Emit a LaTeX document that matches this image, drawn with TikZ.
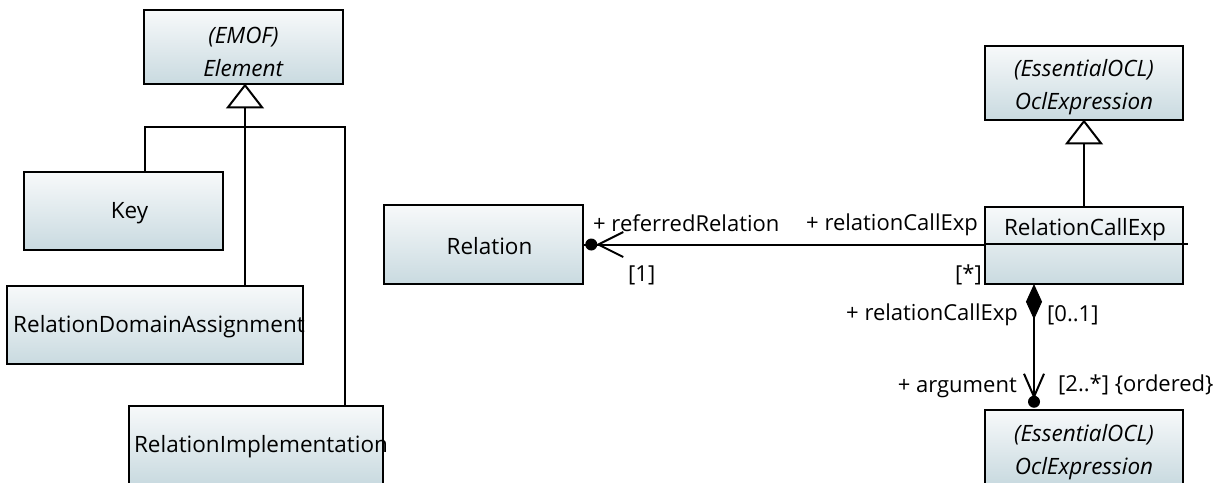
\documentclass[tikz,border=0pt]{standalone}
\usepackage{fontspec}
\setmainfont{Open Sans}
\definecolor{boxtop}{HTML}{F7F9FA}
\definecolor{boxbot}{HTML}{C9DAE0}
\begin{document}
\begin{tikzpicture}[x=1pt,y=-1pt,
  box/.style={draw=black, line width=2.5pt, top color=boxtop, bottom color=boxbot, inner sep=0pt},
  txt/.style={font=\fontsize{22.5}{33}\selectfont, inner sep=0pt, align=center},
  lbl/.style={font=\fontsize{22}{26}\selectfont, inner sep=0pt},
  conn/.style={line width=2pt, draw=black},
  open/.style={line width=2pt, draw=black, fill=white, line join=miter}]
\useasboundingbox (0,0) rectangle (1220,482);
\clip (0,0) rectangle (1220,482);
% boxes
\node[box, minimum width=199pt, minimum height=74pt] (elem) at (243.5,47) {};
\node[box, minimum width=199pt, minimum height=78pt] (key) at (123.5,211) {};
\node[box, minimum width=296pt, minimum height=78pt] (rda) at (155,325) {};
\node[box, minimum width=254pt, minimum height=78pt] (ri) at (256,445) {};
\node[box, minimum width=199pt, minimum height=79pt] (rel) at (483.5,244.5) {};
\node[box, minimum width=198pt, minimum height=74pt] (ocl1) at (1084,83) {};
\node[box, minimum width=198pt, minimum height=77pt] (rce) at (1084,245.5) {};
\node[box, minimum width=198pt, minimum height=74pt] (ocl2) at (1084,447) {};
% box texts
\node[txt] (elemt) at ([yshift=-4.5pt]elem.center) {\textit{(EMOF)}\\\textit{Element}};
\node[txt] (keyt) at ([xshift=6pt,yshift=-2pt]key.center) {Key};
\node[txt] (rdat) at ([xshift=4pt,yshift=-2pt]rda.center) {RelationDomainAssignment};
\node[txt] (rit) at ([xshift=5pt,yshift=-2pt]ri.center) {RelationImplementation};
\node[txt] (relt) at ([xshift=6pt,yshift=-2pt]rel.center) {Relation};
\node[txt] (ocl1t) at ([yshift=-4.5pt]ocl1.center) {\textit{(EssentialOCL)}\\\textit{OclExpression}};
\node[txt] (rcet) at ([xshift=1pt,yshift=16pt]rce.center) {RelationCallExp};
\node[txt] (ocl2t) at ([yshift=-5.5pt]ocl2.center) {\textit{(EssentialOCL)}\\\textit{OclExpression}};
\draw[conn] ([yshift=1.5pt]rce.west) -- ([xshift=4pt,yshift=1.5pt]rce.east);
% generalization to Element
\coordinate (ga) at ([xshift=1.5pt]elem.south);
\coordinate (gb) at ([yshift=-22pt]ga);
\coordinate (bar) at ([yshift=-20pt]gb);
\draw[conn] (gb) -- (gb |- rda.north);
\draw[conn] ([xshift=21.5pt]key.north) |- (bar) -| ([xshift=89pt]ri.north);
\draw[open] (ga) -- ++(17,22) -- ++(-34,0) -- cycle;
% generalization to OclExpression
\draw[conn] (rce.north) -- ([yshift=-22pt]ocl1.south);
\draw[open] (ocl1.south) -- ++(17,22) -- ++(-34,0) -- cycle;
% association Relation -- RelationCallExp
\draw[conn] (rel.east) -- (rel.east -| rce.west);
\fill ([xshift=7pt]rel.east) circle (6pt);
\draw[conn] ([xshift=39pt,yshift=12.5pt]rel.east) -- ([xshift=14pt]rel.east) -- ([xshift=39pt,yshift=-12.5pt]rel.east);
% composition RelationCallExp -- OclExpression
\coordinate (dtop) at ([xshift=-50pt]rce.south);
\coordinate (abot) at ([xshift=-50pt]ocl2.north);
\draw[conn] ([yshift=-33pt]dtop) -- ([yshift=12pt]abot);
\draw[line width=1pt, fill=black] (dtop) -- ++(7.5,16.5) -- ++(-7.5,16.5) -- ++(-7.5,-16.5) -- cycle;
\fill ([yshift=7pt]abot) circle (6pt);
\draw[conn] ([xshift=-10pt,yshift=35pt]abot) -- ([yshift=12pt]abot) -- ([xshift=10pt,yshift=35pt]abot);
% labels
\node[lbl, anchor=west] (l1) at (593,223) {+ referredRelation};
\node[lbl, anchor=west] (l2) at (628,275) {[1]};
\node[lbl, anchor=east] (l3) at (978,225) {+ relationCallExp};
\node[lbl, anchor=east] (l4) at (982,275) {[*]};
\node[lbl, anchor=east] (l5) at (1018,315) {+ relationCallExp};
\node[lbl, anchor=west] (l6) at (1047,315) {[0..1]};
\node[lbl, anchor=east] (l7) at (1017,388) {+ argument};
\node[lbl, anchor=west] (l8) at (1058,385) {[2..*] \{ordered\}};
\end{tikzpicture}
\end{document}
